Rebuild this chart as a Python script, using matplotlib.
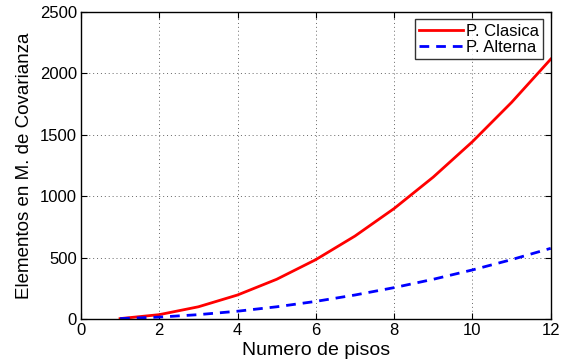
import matplotlib
matplotlib.use("Agg")
import matplotlib.pyplot as plt

pisos = [1, 2, 3, 4, 5, 6, 7, 8, 9, 10, 11, 12]
clasica = [4, 36, 100, 196, 324, 484, 676, 900, 1156, 1444, 1764, 2116]
alterna = [4, 16, 36, 64, 100, 144, 196, 256, 324, 400, 484, 576]
xticks = [0, 2, 4, 6, 8, 10, 12]
yticks = [0, 500, 1000, 1500, 2000, 2500]

plt.rcParams['font.family'] = ['Liberation Sans', 'DejaVu Sans']
fig = plt.figure(figsize=(5.66, 3.63), dpi=100)
ax = fig.add_axes([0.143, 0.121, 0.830, 0.846])
ax.plot(pisos, clasica, color='#ff0000', lw=2, label='P. Clasica')
ax.plot(pisos, alterna, color='#0000ff', lw=2, ls=(0, (3.5, 2.5)), label='P. Alterna')
ax.set_xlim(0, 12)
ax.set_ylim(0, 2500)
ax.set_xticks(xticks)
ax.set_yticks(yticks)
ax.tick_params(direction='in', top=True, right=True, labelsize=12, length=4, width=0.8, pad=3)
ax.grid(True, ls=(0, (1, 3)), color='#666666', lw=0.7)
for s in ax.spines.values():
    s.set_linewidth(1.0)
ax.set_xlabel('Numero de pisos', fontsize=14, labelpad=3)
ax.set_ylabel('Elementos en M. de Covarianza', fontsize=13.5, labelpad=5)
leg = ax.legend(loc='upper right', fontsize=12, frameon=True, fancybox=False,
                edgecolor='black', handlelength=2.6, handletextpad=0.2,
                borderpad=0.25, labelspacing=0.1, borderaxespad=0.45)
leg.get_frame().set_linewidth(1.0)
fig.savefig('out.png', dpi=100)
